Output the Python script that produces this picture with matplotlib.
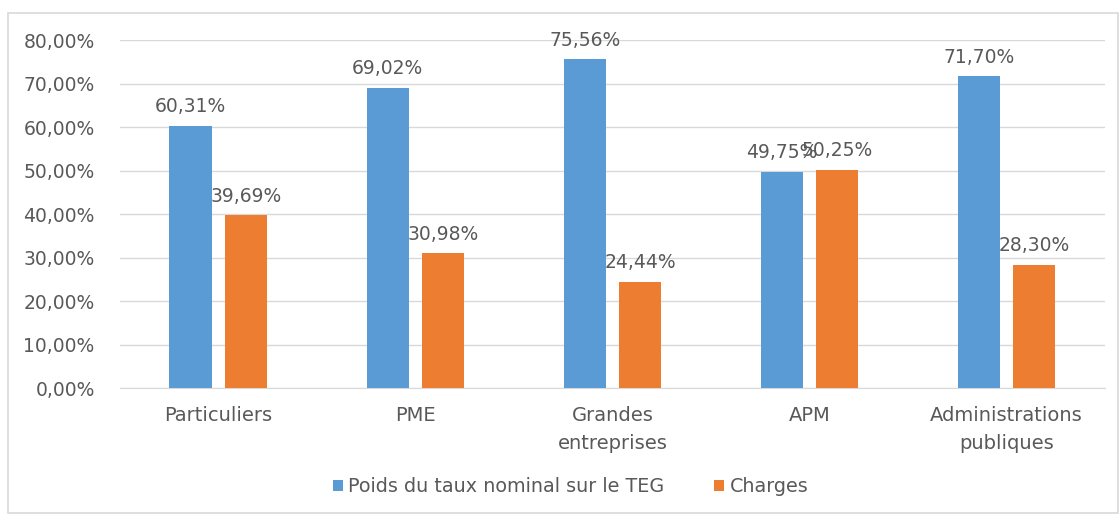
import numpy as np
import matplotlib
matplotlib.use('Agg')
import matplotlib.pyplot as plt
from matplotlib.patches import Rectangle

plt.rcParams['font.family'] = ['DejaVu Sans']

# data
categories = ['Particuliers', 'PME', 'Grandes\nentreprises', 'APM', 'Administrations\npubliques']
poids = [60.31, 69.02, 75.56, 49.75, 71.70]
charges = [39.69, 30.98, 24.44, 50.25, 28.30]
series_names = ['Poids du taux nominal sur le TEG', 'Charges']

blue = '#5B9BD5'
orange = '#ED7D31'
text_col = '#595959'

fig = plt.figure(figsize=(11.19, 5.15), dpi=100)
ax = fig.add_axes([0.107, 0.2466, 0.8805, 0.6754])

# light frame around the whole chart
fig.patches.append(Rectangle((0.007, 0.004), 0.992, 0.971, transform=fig.transFigure,
                             fill=False, edgecolor='#D9D9D9', linewidth=1.2))

x = np.arange(len(categories))
w = 0.215
off = 0.14
b1 = ax.bar(x - off, poids, w, color=blue, label=series_names[0], zorder=3)
b2 = ax.bar(x + off, charges, w, color=orange, label=series_names[1], zorder=3)

def fmt(v):
    return f"{v:.2f}".replace('.', ',') + '%'

for bars, vals in ((b1, poids), (b2, charges)):
    for bar, v in zip(bars, vals):
        ax.annotate(fmt(v), (bar.get_x() + bar.get_width() / 2, v),
                    xytext=(0, 7), textcoords='offset points',
                    ha='center', va='bottom', fontsize=13.5, color=text_col, zorder=4)

ax.set_xlim(-0.5, len(categories) - 0.5)
ax.set_ylim(0, 80)
yt = np.arange(0, 81, 10)
ax.set_yticks(yt)
ax.set_yticklabels([fmt(v) for v in yt], fontsize=13.5, color=text_col)
ax.set_xticks(x)
ax.set_xticklabels(categories, fontsize=14, color=text_col, linespacing=1.6)
ax.tick_params(length=0, pad=13)
ax.tick_params(axis='y', pad=18)

ax.grid(axis='y', color='#D9D9D9', linewidth=1, zorder=0)
for s in ['top', 'right', 'left']:
    ax.spines[s].set_visible(False)
ax.spines['bottom'].set_color('#D9D9D9')

leg = fig.legend(loc='center', bbox_to_anchor=(0.51, 0.055), ncol=2, frameon=False,
                 fontsize=13.8, handlelength=0.5, handleheight=0.5, handletextpad=0.3,
                 columnspacing=2.6)
for t in leg.get_texts():
    t.set_color(text_col)

fig.savefig('out.png', dpi=100)
